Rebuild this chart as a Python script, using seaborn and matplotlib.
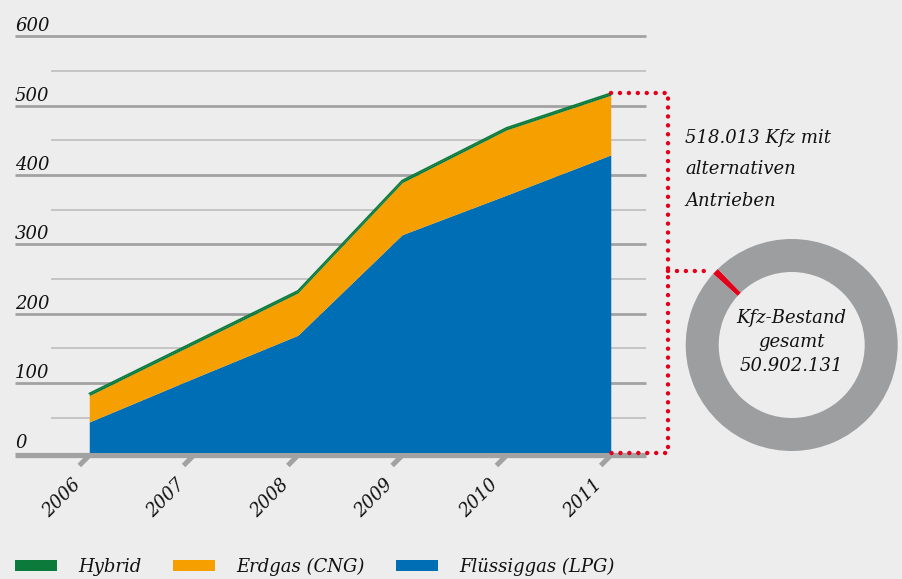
import matplotlib
matplotlib.use("Agg")
import matplotlib.pyplot as plt
import matplotlib.transforms as mtransforms
import seaborn as sns

# values in thousand vehicles
years = [2006, 2007, 2008, 2009, 2010, 2011]
lpg = [44, 107, 169, 314, 371, 429]      # Flüssiggas (LPG)
cng = [38, 49, 61, 75, 94, 86]           # Erdgas (CNG)
hybrid = [3, 3, 3, 3, 3, 3]              # Hybrid
total = [a + b + c for a, b, c in zip(lpg, cng, hybrid)]

series_labels = ["Flüssiggas (LPG)", "Erdgas (CNG)", "Hybrid"]
y_major = [0, 100, 200, 300, 400, 500, 600]
y_minor = [50, 150, 250, 350, 450, 550]

# donut: vehicles with alternative drive vs. whole stock
alt_count = 518013
stock_total = 50902131
alt_text = "518.013 Kfz mit\nalternativen\nAntrieben"
donut_text = "Kfz-Bestand\ngesamt\n50.902.131"

bg = "#ecedec"
blue = "#006eb4"
orange = "#f5a000"
green = "#0b7a3a"
grey_major = "#a2a2a2"
grey_minor = "#bdbdbd"
ring_grey = "#9d9ea0"
red = "#e2001a"

sns.set_style("white")
plt.rcParams["font.family"] = ["DejaVu Serif"]
plt.rcParams["font.style"] = "italic"
plt.rcParams["text.color"] = "#111111"

W, H = 902, 579
fig = plt.figure(figsize=(W / 100, H / 100), dpi=100)
fig.patch.set_facecolor(bg)

# main area chart
ax = fig.add_axes([15 / W, (H - 452.5) / H, 631 / W, (452.5 - 36.3) / H])
ax.set_facecolor("none")
ax.axis("off")
x0 = 2006 - 0.712
x1 = 2011 + 0.338

for v in y_minor:
    ax.hlines(v, 2006 - 0.364, x1, color=grey_minor, lw=1.2, zorder=0, clip_on=False)
for v in y_major[1:]:
    ax.hlines(v, x0, x1, color=grey_major, lw=2.0, zorder=0, clip_on=False)
down = mtransforms.offset_copy(ax.transData, fig=fig, x=0, y=-2.5, units="dots")
ax.plot([x0, x1], [0, 0], color=grey_major, lw=3.8, transform=down,
        zorder=1, clip_on=False, solid_capstyle="butt")

polys = ax.stackplot(years, lpg, cng, hybrid, colors=[blue, orange, green],
                     lw=0, zorder=2)
sns.lineplot(x=years, y=total, color=green, lw=1.2, ax=ax, zorder=3)
ax.set_xlim(x0, x1)
ax.set_ylim(0, 600)

for v in y_major:
    ax.annotate(str(v), xy=(x0, v), xytext=(0, 5), textcoords="offset pixels",
                ha="left", va="baseline", fontsize=13)

for yr in years:
    t0 = mtransforms.offset_copy(ax.transData, fig=fig, x=0, y=-3, units="dots")
    t1 = mtransforms.offset_copy(ax.transData, fig=fig, x=-10, y=-13, units="dots")
    p0 = t0.transform((yr, 0))
    p1 = t1.transform((yr, 0))
    ax.plot([p0[0], p1[0]], [p0[1], p1[1]], transform=None, color=grey_major,
            lw=3.6, solid_capstyle="butt", clip_on=False, zorder=1)
    ax.annotate(str(yr), xy=(yr, 0), xytext=(-18, -23), textcoords="offset pixels",
                rotation=45, rotation_mode="anchor", ha="right", va="top",
                fontsize=13)

# red dotted bracket linking the 2011 total to the donut
dots = dict(color=red, lw=3.2, linestyle=(0, (0.01, 2.0)),
            dash_capstyle="round", clip_on=False, zorder=4)
bx = 2011.546
ax.plot([years[-1], bx, bx, years[-1]], [total[-1], total[-1], 0, 0], **dots)
ax.plot([bx, 2011.95], [262, 262], **dots)

fig.text(685 / W, 1 - 129 / H, alt_text, ha="left", va="top",
         fontsize=13, linespacing=1.95)

# donut
r_px = 106
axd = fig.add_axes([(791.7 - r_px) / W, (H - 345 - r_px) / H,
                    2 * r_px / W, 2 * r_px / H])
axd.set_facecolor("none")
share = alt_count / stock_total * 360
axd.pie([alt_count, stock_total - alt_count], colors=[red, ring_grey],
        startangle=136 - share / 2, counterclock=True, radius=1,
        wedgeprops=dict(width=33 / r_px, linewidth=0))
axd.set_xlim(-1, 1)
axd.set_ylim(-1, 1)
axd.text(0, 0.03, donut_text, ha="center", va="center", fontsize=13,
         linespacing=1.45)

handles = list(polys)[::-1]
fig.legend(handles, series_labels[::-1], loc="lower left",
           bbox_to_anchor=(15 / W, 3 / H), ncol=3, frameon=False,
           fontsize=13, handlelength=2.3, handleheight=0.6, handletextpad=1.2,
           columnspacing=1.75, borderpad=0, borderaxespad=0)

fig.savefig("out.png", dpi=100, facecolor=bg)
